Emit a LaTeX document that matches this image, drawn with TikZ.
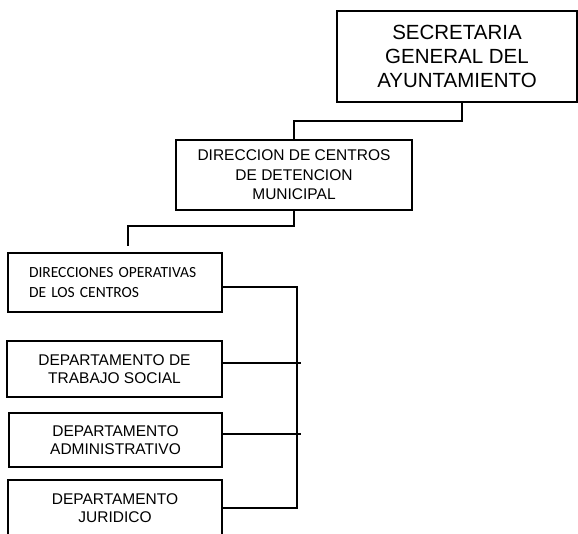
\documentclass[tikz,border=0pt]{standalone}
\usepackage{fontspec}
\usepackage{tikz}
\usetikzlibrary{calc}
\newfontfamily\arialfont{Liberation Sans}
\newfontfamily\calibfont{Carlito}

\begin{document}
\begin{tikzpicture}[x=1pt,y=-1pt,
	orgbox/.style={draw,line width=1.6pt,inner sep=0pt,align=center},
	link/.style={line width=1.5pt}]
	\clip (0,0) rectangle (578,534);
	\node[orgbox,minimum width=240pt,minimum height=91pt,font=\arialfont\fontsize{20.5}{24}\selectfont] (sec) at (457,56.5) {SECRETARIA\\GENERAL DEL\\AYUNTAMIENTO};
	\node[orgbox,minimum width=236pt,minimum height=70pt,font=\arialfont\fontsize{15.5}{19.5}\selectfont] (dir) at (294,175) {DIRECCION DE CENTROS\\DE DETENCION\\MUNICIPAL};
	\node[orgbox,align=left,text width=172pt,inner xsep=21pt,minimum height=59pt,font=\calibfont\fontsize{15.5}{20}\selectfont] (ops) at (115,282.5) {DIRECCIONES OPERATIVAS\\DE LOS CENTROS};
	\node[orgbox,minimum width=215pt,minimum height=56pt,font=\arialfont\fontsize{15.5}{18}\selectfont] (ts) at (114.5,369) {DEPARTAMENTO DE\\TRABAJO SOCIAL};
	\node[orgbox,minimum width=213pt,minimum height=54pt,font=\arialfont\fontsize{15.5}{18}\selectfont] (adm) at (115.5,440) {DEPARTAMENTO\\ADMINISTRATIVO};
	\node[orgbox,minimum width=214pt,minimum height=56pt,font=\arialfont\fontsize{15.5}{18}\selectfont] (jur) at (115,508) {DEPARTAMENTO\\JURIDICO};
	% upper links
	\draw[link] ([xshift=5pt]sec.south) -- ++(0,18) -| (dir.north);
	\coordinate (opstop) at ([xshift=13pt,yshift=6pt]ops.north);
	\draw[link] (dir.south) -- ++(0,15) -| (opstop);
	% bracket
	\coordinate (bar) at (297,287);
	\draw[link] ([yshift=-4.5pt]ops.east) -- (bar) |- (jur.east);
	\draw[link] ([yshift=6pt]ts.east) -- ++(78,0);
	\draw[link] ([yshift=6pt]adm.east) -- ++(78,0);
\end{tikzpicture}
\end{document}
